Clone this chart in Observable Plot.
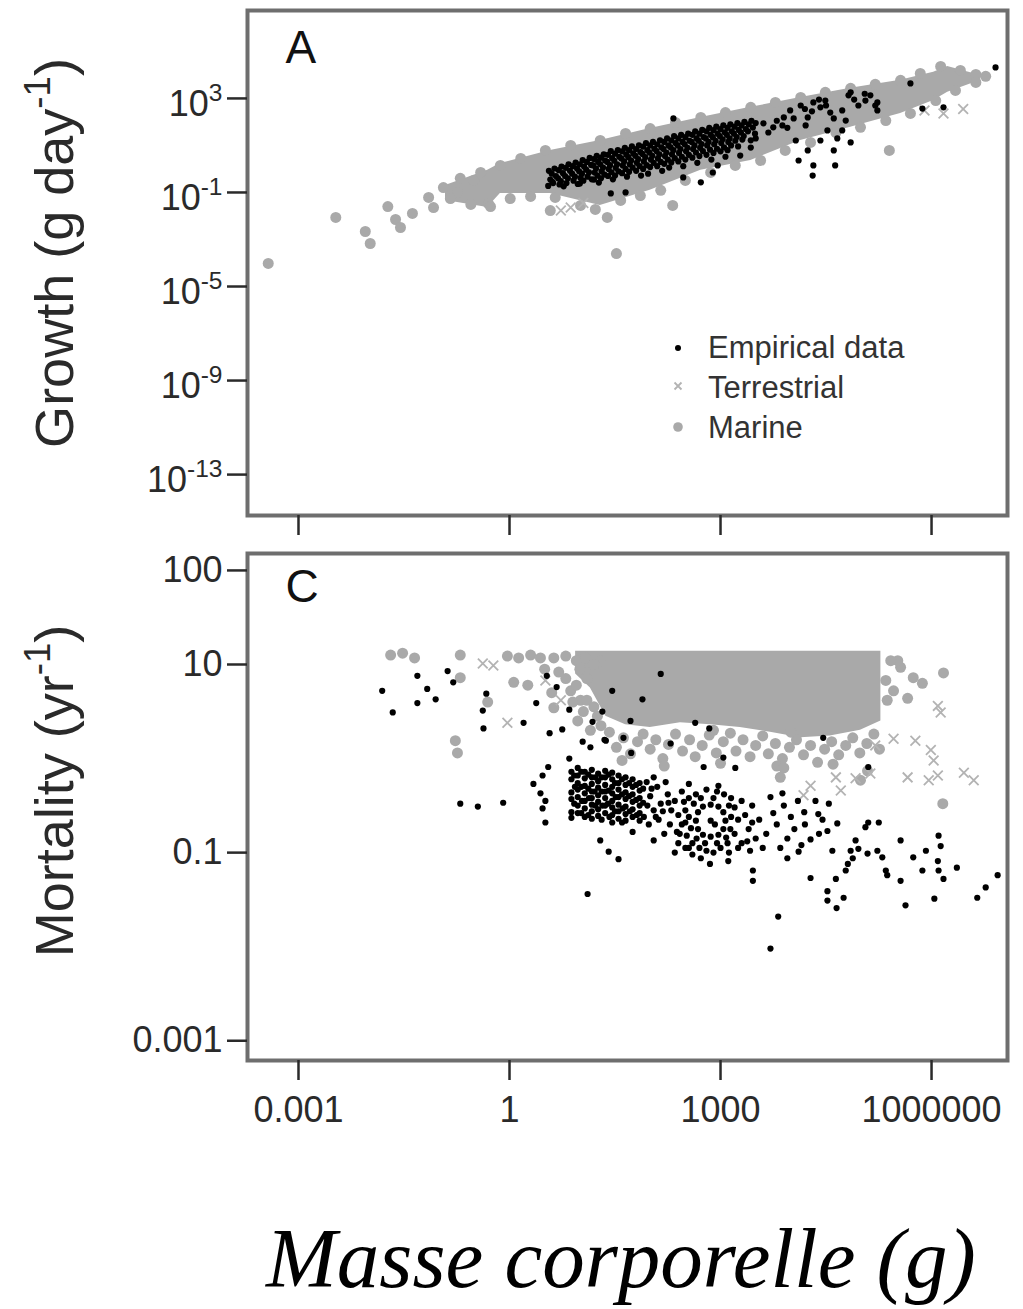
<!DOCTYPE html>
<html><head><meta charset="utf-8">
<script src="https://cdn.jsdelivr.net/npm/d3@7"></script>
<script src="https://cdn.jsdelivr.net/npm/@observablehq/plot@0.6"></script>
<style>
body{margin:0;background:#fff;}
#wrap{position:relative;width:1023px;height:1309px;overflow:hidden;font-family:"Liberation Sans",Arial,Helvetica,sans-serif;}
#legend{position:absolute;left:660px;top:328px;font-size:31px;color:#333;}
#legend .row{position:relative;height:40px;line-height:40px;white-space:nowrap;}
#legend svg{position:absolute;left:0;top:0;}
#legend span{position:absolute;left:48px;top:0;}
#xtitle{position:absolute;left:266px;top:1216px;font:italic 85px "Liberation Serif","Times New Roman",serif;line-height:1;color:#000;white-space:nowrap;}
</style></head><body>
<div id="wrap"></div>
<script>
const FONT = '"Liberation Sans", Arial, Helvetica, sans-serif';

// ---- axes ----
const massTicks = [0.001, 1, 1000, 1000000];
const massTickLabels = ["0.001", "1", "1000", "1000000"];
const growthTicks = [1e3, 1e-1, 1e-5, 1e-9, 1e-13];
const growthTickLabels = ["10^3", "10^-1", "10^-5", "10^-9", "10^-13"];
const mortalityTicks = [100, 10, 0.1, 0.001];
const mortalityTickLabels = ["100", "10", "0.1", "0.001"];
const seriesNames = ["Empirical data", "Terrestrial", "Marine"];
const panelLetters = ["A", "C"];
const yTitles = ["Growth (g day^-1|)", "Mortality (yr^-1|)"];
const xTitle = "Masse corporelle (g)";

// ---- Panel A: [log10 body mass (g), log10 growth (g/day)] ----
const growthEmpirical = [
 [0.56,-0.08],[0.58,-0.45],[0.55,-0.72],[0.64,0.02],[0.66,-0.3],[0.62,-0.6],[0.74,0.1],[0.76,-0.18],[0.73,-0.52],[0.77,-0.74],
 [0.84,0.2],[0.86,-0.08],[0.83,-0.4],[0.94,0.27],[0.96,0.02],[0.93,-0.33],[0.97,-0.64],[1.04,0.38],[1.06,0.1],[1.03,-0.2],
 [1.05,-0.5],[1.14,0.47],[1.16,0.17],[1.13,-0.14],[1.17,-0.44],[1.24,0.56],[1.26,0.3],[1.23,0.02],[1.25,-0.28],[1.27,-0.58],
 [1.34,0.62],[1.36,0.36],[1.33,0.06],[1.35,-0.24],[1.44,0.76],[1.46,0.46],[1.43,0.16],[1.45,-0.14],[1.47,-0.44],[1.54,0.8],
 [1.56,0.52],[1.53,0.2],[1.55,-0.1],[1.64,0.9],[1.66,0.62],[1.63,0.32],[1.65,0.0],[1.67,-0.33],[1.74,0.96],[1.76,0.66],
 [1.73,0.36],[1.75,0.06],[1.84,1.0],[1.86,0.72],[1.83,0.42],[1.85,0.12],[1.87,-0.28],[1.94,1.1],[1.96,0.8],[1.93,0.5],
 [1.95,0.16],[1.97,-0.2],[2.04,1.15],[2.06,0.86],[2.03,0.56],[2.05,0.26],[2.14,1.22],[2.16,0.92],[2.13,0.62],[2.15,0.3],
 [2.17,-0.08],[2.24,1.3],[2.26,1.0],[2.23,0.7],[2.25,0.4],[2.27,0.06],[2.34,1.4],[2.36,1.1],[2.33,0.8],[2.35,0.46],
 [2.44,1.45],[2.46,1.15],[2.43,0.85],[2.45,0.52],[2.47,0.12],[2.54,1.5],[2.56,1.2],[2.53,0.9],[2.55,0.6],[2.64,1.6],
 [2.66,1.3],[2.63,1.0],[2.65,0.7],[2.67,0.26],[2.74,1.66],[2.76,1.36],[2.73,1.06],[2.75,0.76],[2.84,1.75],[2.86,1.45],
 [2.83,1.15],[2.85,0.82],[2.87,0.4],[2.94,1.8],[2.96,1.5],[2.93,1.2],[2.95,0.86],[3.04,1.86],[3.06,1.56],[3.03,1.26],
 [3.05,0.92],[3.07,0.52],[3.14,1.9],[3.16,1.6],[3.13,1.3],[3.15,1.0],[3.24,1.95],[3.26,1.66],[3.23,1.36],[3.25,0.96],
 [3.34,2.0],[3.36,1.7],[3.33,1.4],[3.44,2.05],[3.46,1.76],[3.43,1.22],
 [0.6,-0.2],[0.61,-0.55],[0.7,-0.05],[0.69,-0.4],[0.71,-0.66],[0.8,0.05],[0.79,-0.3],[0.81,-0.6],[0.9,0.12],[0.89,-0.2],
 [0.91,-0.5],[1.0,0.2],[0.99,-0.1],[1.01,-0.38],[1.0,-0.62],[1.1,0.3],[1.09,-0.03],[1.11,-0.33],[1.2,0.42],[1.19,0.15],
 [1.21,-0.15],[1.2,-0.45],[1.3,0.48],[1.29,0.2],[1.31,-0.1],[1.3,-0.4],[1.4,0.6],[1.39,0.3],[1.41,0.0],[1.4,-0.3],
 [1.5,0.65],[1.49,0.35],[1.51,0.05],[1.5,-0.28],[1.6,0.75],[1.59,0.45],[1.61,0.15],[1.6,-0.18],[1.7,0.8],[1.69,0.5],
 [1.71,0.2],[1.7,-0.12],[1.8,0.85],[1.79,0.56],[1.81,0.26],[1.8,-0.08],[1.9,0.95],[1.89,0.64],[1.91,0.32],[1.9,0.0],
 [2.0,1.0],[1.99,0.7],[2.01,0.4],[2.0,0.08],[2.1,1.05],[2.09,0.76],[2.11,0.45],[2.1,0.12],[2.2,1.15],[2.19,0.85],
 [2.21,0.55],[2.2,0.22],[2.3,1.22],[2.29,0.92],[2.31,0.62],[2.3,0.28],[2.4,1.3],[2.39,1.0],[2.41,0.68],[2.4,0.32],
 [2.5,1.35],[2.49,1.05],[2.51,0.75],[2.5,0.4],[2.6,1.45],[2.59,1.15],[2.61,0.85],[2.6,0.48],[2.7,1.5],[2.69,1.2],
 [2.71,0.9],[2.7,0.55],[2.8,1.6],[2.79,1.3],[2.81,1.0],[2.8,0.6],[2.9,1.65],[2.89,1.35],[2.91,1.05],[2.9,0.68],
 [3.0,1.7],[2.99,1.4],[3.01,1.1],[3.0,0.75],[3.1,1.75],[3.09,1.45],[3.11,1.15],[3.1,0.8],[3.2,1.8],[3.19,1.5],
 [3.21,1.2],[3.3,1.85],[3.29,1.55],[3.31,1.25],[3.4,1.9],[3.39,1.6],[3.5,1.95],[3.49,1.5],
 [2.33,2.15],[6.91,4.32],[5.70,3.64],[5.87,2.57],[6.17,2.62],[4.85,3.26],[4.96,2.70],[5.23,2.83],[5.23,2.49],[4.73,2.49],
 [4.61,2.15],[4.42,2.62],[4.32,2.83],[4.24,2.19],[4.04,2.15],[3.90,2.19],[4.52,1.64],[4.73,1.64],[4.66,1.30],[4.85,1.13],
 [4.42,1.21],[4.24,0.79],[4.07,1.21],[4.61,0.79],[4.11,0.36],[4.32,0.15],[4.63,0.15],[4.31,-0.28],[3.75,1.77],[3.61,1.94],
 [3.43,0.91],[3.28,0.57],[2.96,0.15],[2.89,-0.15],[2.72,-0.57],[2.47,-0.36],[1.65,-1.0],[1.44,-1.04],
 [4.14,2.70],[3.99,2.49],[4.49,2.91],[4.56,2.40],[4.21,1.85],[4.82,3.13],[5.06,2.91],[5.13,3.13],[5.20,2.70],[3.88,1.85],
 [3.68,1.55],[3.50,1.30],[4.78,2.06],[4.3,2.45],[4.4,2.95],[4.2,2.55],[4.9,2.95],[5.05,3.2],[4.5,2.7],[3.8,2.05],[3.95,1.75]
];
const growthTerrestrial = [[0.87,-1.64],[5.90,2.49],[6.17,2.36],[6.45,2.55],[1.05,-1.45],[0.73,-1.77]];
const growthMarine = [
 [-3.43,-4.02],[-2.47,-2.06],[-2.05,-2.66],[-1.98,-3.17],[-1.73,-1.60],[-1.62,-2.15],[-1.55,-2.49],[-1.38,-1.89],[-1.15,-1.21],
 [-1.08,-1.64],[-0.94,-0.79],[-0.74,-1.00],[-0.51,-0.49],[-0.30,-1.47],[0.58,-1.77],[1.39,-2.06],[1.52,-3.60],[2.32,-1.55],[5.40,0.79],
 [-0.70,-0.40],[-0.41,-0.15],[-0.13,0.15],[0.16,0.45],[0.51,0.79],[0.87,1.00],[1.29,1.21],[1.65,1.51],[2.00,1.72],[2.36,1.98],
 [2.72,2.19],[3.07,2.40],[3.43,2.62],[3.78,2.83],[4.14,3.04],[4.49,3.26],[4.85,3.43],[5.20,3.60],[5.56,3.77],[5.84,4.06],
 [6.13,4.36],[6.41,4.19],[6.63,4.02],[6.77,3.94],
 [-0.84,-1.26],[-0.55,-1.51],[-0.27,-1.60],[0.01,-1.26],[0.30,-1.17],[0.65,-1.21],[1.01,-1.55],[1.22,-1.72],[1.58,-1.34],
 [1.86,-1.13],[2.15,-0.91],[2.50,-0.49],[2.86,-0.15],[3.21,0.15],[3.57,0.36],[3.92,0.79],[4.28,1.13],[4.64,1.55],[4.99,1.77],
 [5.35,2.06],[5.70,2.36],[6.06,2.91],[6.34,3.34],[6.63,3.68]
];
// envelope of the dense marine cloud
const growthCoreMass = [-0.91,-0.31,-0.13,0.58,1.29,2.00,2.72,3.43,4.14,4.85,5.56,6.03,6.23,6.70];
const growthCoreHigh = [-0.70,-0.06,0.23,0.79,1.21,1.72,2.19,2.62,3.04,3.43,3.77,4.11,4.36,3.98];
const growthCoreLow  = [-1.34,-1.64,-1.04,-1.04,-1.55,-0.91,-0.06,0.36,1.21,1.77,2.36,2.91,3.26,3.77];

// ---- Panel C: [log10 body mass (g), log10 mortality (1/yr)] ----
const mortalityEmpirical = [
 [-1.81,0.72],[-1.66,0.49],[-1.31,0.88],[-1.31,0.59],[-1.17,0.74],[-1.05,0.63],[-0.88,0.93],[-0.80,0.81],[-0.33,0.69],[-0.38,0.51],
 [-0.37,0.32],[0.20,0.38],[0.38,0.59],[0.53,0.88],[0.67,0.76],[0.85,0.52],[0.57,0.27],[0.75,0.31],[-0.70,-0.48],[-0.45,-0.51],
 [-0.09,-0.47],[1.11,-1.44],[2.15,0.90],[1.46,0.72],[1.89,0.63],[1.32,0.50],[1.18,0.39],[1.72,0.40],[1.04,0.18],[1.15,0.12],
 [1.35,0.20],[1.62,0.22],[1.73,0.06],[2.29,0.16],[0.85,0.0],[0.55,-0.09],[0.47,-0.18],[0.34,-0.27],[0.44,-0.37],[0.51,-0.45],
 [0.47,-0.53],[0.51,-0.68],[1.29,-0.87],[1.41,-0.99],[1.55,-1.07],[1.75,-0.78],[2.05,-0.87],[2.50,-0.95],[2.64,0.38],[2.84,0.32],
 [4.46,0.22],[5.10,-0.09],[3.04,0.01],[2.76,-0.09],[3.21,-0.10],[2.55,-0.27],[2.97,-0.29],[3.88,-0.37],[3.71,-0.41],[4.54,-0.48],
 [4.19,-0.57],[4.39,-0.59],[4.66,-0.69],[5.10,-0.68],[5.25,-0.68],[4.52,-0.77],[4.28,-0.86],[4.11,-0.99],[3.95,-1.06],[3.46,-1.30],
 [4.28,-1.27],[4.64,-1.28],[4.52,-1.41],[4.52,-1.51],[4.75,-1.48],[4.65,-1.59],[4.78,-1.19],[4.88,-1.06],[4.96,-0.96],[5.09,-1.01],
 [5.23,-0.98],[5.30,-1.05],[5.35,-1.19],[5.37,-1.24],[5.56,-0.87],[5.56,-1.30],[5.74,-1.05],[5.87,-1.19],[5.92,-0.98],[6.10,-0.82],
 [6.13,-0.93],[6.09,-1.09],[6.10,-1.19],[6.17,-1.28],[6.36,-1.16],[5.63,-1.56],[6.04,-1.49],[6.65,-1.48],[6.77,-1.37],[6.94,-1.24],
 [3.82,-1.68],[3.71,-2.02],[4.85,-0.98],[4.92,-0.87],[5.06,-0.73],[4.81,-1.12],[4.59,-0.98],[2.72,-1.06],[2.55,-0.95],[3.11,-1.09],
 [3.46,-1.19],[1.37,0.19],
 [3.9,-0.5],[4.0,-0.62],[4.1,-0.45],[4.05,-0.75],[4.2,-0.7],[4.35,-0.45],[4.45,-0.65],[3.95,-0.85],[4.15,-0.92],[4.4,-0.8],
 [3.8,-0.7],[3.75,-0.58],[3.65,-0.8],[3.6,-0.95],[3.55,-0.65],[3.85,-0.95],
 [3.07,-0.66],[3.04,-0.57],[2.97,-0.51],[2.86,-0.49],[2.75,-0.51],[2.68,-0.57],[2.65,-0.66],[2.68,-0.75],[2.75,-0.81],[2.86,-0.83],
 [2.97,-0.81],[3.04,-0.75],[2.86,-0.66],[2.92,-0.7],
 [2.45,-0.35],[2.55,-0.42],[2.5,-0.55],[2.45,-0.7],[2.52,-0.82],[2.6,-0.9],[2.7,-0.95],[2.8,-0.98],[2.9,-1.0],[3.0,-0.95],
 [3.1,-0.9],[3.2,-0.8],[3.25,-0.65],[3.2,-0.52],[3.15,-0.42],[3.05,-0.38],[2.95,-0.35],[2.8,-0.33],[2.65,-0.38],[3.3,-0.45],
 [3.35,-0.6],[3.4,-0.75],[3.3,-0.9],[3.42,-0.98],[2.6,-1.02],[2.85,-1.12],[3.12,-1.0],[3.45,-0.5],[3.5,-0.85],[2.4,-0.9],[2.35,-1.0],
 [2.55,-0.62],[2.58,-0.74],[2.62,-0.48],[2.72,-0.42],[2.9,-0.42],[3.12,-0.5],[3.15,-0.62],[3.14,-0.75],[3.08,-0.84],[2.95,-0.9],
 [2.78,-0.9],[2.66,-0.85],[2.5,-0.68],[2.42,-0.8],[3.25,-0.95],[3.38,-0.88],[3.45,-0.68],[2.48,-0.46],
 [1.95,-0.25],[2.0,-0.4],[2.05,-0.55],[1.98,-0.7],[2.1,-0.3],[2.15,-0.48],[2.12,-0.65],[2.2,-0.8],[2.25,-0.38],[2.3,-0.55],
 [2.28,-0.7],[2.35,-0.45],[2.4,-0.6],[2.38,-0.78],[2.05,-0.2],[2.22,-0.25],[2.02,-0.32],[2.08,-0.62],[2.18,-0.56],[2.26,-0.47],[1.96,-0.5],
 [0.88,-0.14],[0.88,-0.22],[0.88,-0.36],[0.88,-0.43],[0.88,-0.57],[0.88,-0.63],
 [0.97,-0.1],[0.97,-0.18],[0.97,-0.26],[0.97,-0.33],[0.97,-0.41],[0.97,-0.5],[0.97,-0.58],
 [1.07,-0.14],[1.07,-0.21],[1.07,-0.29],[1.07,-0.37],[1.07,-0.45],[1.07,-0.53],[1.07,-0.62],
 [1.17,-0.12],[1.17,-0.2],[1.17,-0.27],[1.17,-0.35],[1.17,-0.49],[1.17,-0.56],[1.17,-0.64],
 [1.26,-0.16],[1.26,-0.24],[1.26,-0.31],[1.26,-0.39],[1.26,-0.46],[1.26,-0.54],[1.26,-0.61],
 [1.36,-0.13],[1.36,-0.2],[1.36,-0.28],[1.36,-0.42],[1.36,-0.5],[1.36,-0.58],
 [1.46,-0.15],[1.46,-0.22],[1.46,-0.3],[1.46,-0.37],[1.46,-0.45],[1.46,-0.52],[1.46,-0.6],[1.46,-0.68],
 [1.55,-0.18],[1.55,-0.26],[1.55,-0.33],[1.55,-0.41],[1.55,-0.49],[1.55,-0.56],[1.55,-0.64],
 [1.65,-0.2],[1.65,-0.28],[1.65,-0.36],[1.65,-0.43],[1.65,-0.51],[1.65,-0.59],[1.65,-0.66],
 [1.75,-0.22],[1.75,-0.3],[1.75,-0.38],[1.75,-0.46],[1.75,-0.54],[1.75,-0.62],
 [1.85,-0.26],[1.85,-0.34],[1.85,-0.42],[1.85,-0.5],[1.85,-0.58],[1.85,-0.66],
 [0.92,-0.18],[0.93,-0.3],[0.92,-0.48],[1.02,-0.14],[1.02,-0.3],[1.03,-0.45],[1.02,-0.58],[1.12,-0.17],[1.12,-0.32],[1.13,-0.42],
 [1.12,-0.6],[1.22,-0.2],[1.21,-0.35],[1.22,-0.5],[1.31,-0.2],[1.31,-0.35],[1.32,-0.5],[1.31,-0.65],[1.41,-0.17],[1.41,-0.34],
 [1.4,-0.48],[1.42,-0.62],[1.5,-0.26],[1.51,-0.41],[1.5,-0.56],[1.6,-0.22],[1.6,-0.38],[1.61,-0.53],[1.6,-0.68],[1.7,-0.26],
 [1.7,-0.4],[1.71,-0.56],[1.8,-0.28],[1.8,-0.44],[1.81,-0.6],[1.9,-0.32],[1.9,-0.47],[1.91,-0.62],[1.36,-0.35],[1.17,-0.42]
];
const mortalityTerrestrial = [
 [-0.23,0.99],[-0.03,0.38],[-0.38,1.01],[0.51,0.83],[0.73,0.62],
 [6.09,0.56],[5.46,0.21],[5.99,0.09],[6.03,-0.02],[4.64,-0.20],[4.92,-0.21],[5.13,-0.16],[5.66,-0.20],[5.96,-0.23],[6.09,-0.18],
 [6.46,-0.15],[6.60,-0.23],[4.18,-0.39],[4.71,-0.34],[5.20,0.14],[5.77,0.19],[6.13,0.49],[4.28,-0.29]
];
const mortalityMarine = [
 [-1.69,1.10],[-1.52,1.12],[-1.35,1.07],[-0.70,1.10],[-0.70,0.86],[-0.77,0.19],[-0.74,0.06],[-0.31,0.60],[-0.03,1.09],[0.13,1.07],
 [0.30,1.10],[0.44,1.07],[0.06,0.81],[0.26,0.78],[0.63,1.07],[0.80,1.09],[0.63,0.54],[0.95,1.04],[1.08,1.07],[1.29,1.04],
 [1.01,0.62],[0.97,0.40],[1.15,0.30],[0.87,0.72],[1.0,0.95],[1.1,0.85],[0.95,0.78],[0.7,0.92],[1.2,1.0],
 [0.5,0.95],[0.6,0.7],[0.8,0.85],[0.9,0.6],[1.05,0.5],[1.1,0.62],[1.25,0.45],[1.3,0.35],[1.2,0.55],
 [1.42,0.28],[1.52,0.12],[1.62,0.22],[1.72,0.05],[1.82,0.18],[1.9,0.26],[2.0,0.1],[2.08,0.2],[2.18,0.0],[2.26,0.15],
 [2.36,0.26],[2.46,0.08],[2.56,0.2],[2.64,0.02],[2.74,0.14],[2.84,0.25],[2.94,0.06],[3.04,0.18],[3.14,0.27],[3.22,0.08],
 [3.32,0.2],[3.42,0.02],[3.5,0.14],[3.6,0.24],[3.68,0.05],[3.78,0.16],[3.88,0.0],[3.98,0.12],[4.08,0.2],[4.18,0.04],
 [4.28,0.14],[4.38,-0.04],[4.48,0.1],[4.58,0.18],[4.68,0.04],[4.78,0.14],[4.88,0.22],[4.98,0.06],[5.08,0.16],[5.18,0.26],
 [5.26,0.1],[2.2,-0.08],[3.0,-0.05],[3.8,-0.08],[4.6,-0.06],[1.6,-0.02],[2.9,0.3],[4.0,0.28],
 [6.17,0.91],[5.56,0.97],[5.74,0.86],[5.52,1.04],[5.87,0.80],[5.66,0.64],[5.37,0.62],[6.16,-0.48],[5.09,-0.13],[4.99,-0.23],
 [3.90,-0.10],[3.85,-0.20],[5.42,1.04],[5.35,0.83],[5.46,0.72]
];
// envelope of the dense marine block
const mortalityCoreMass = [0.94,1.15,1.37,1.65,2.0,2.43,2.86,3.28,3.71,4.14,4.56,4.99,5.28];
const mortalityCoreLow  = [0.9,0.75,0.45,0.36,0.33,0.38,0.36,0.33,0.28,0.22,0.24,0.3,0.4];
const mortalityCoreHigh = [1.14,1.14,1.14,1.14,1.14,1.14,1.14,1.14,1.14,1.14,1.14,1.14,1.14];

// ---- helpers ----
const pts = arr => arr.map(([m, v]) => ({mass: 10 ** m, value: 10 ** v}));
const band = (m, lo, hi) => m.map((d, i) => ({mass: 10 ** d, low: 10 ** lo[i], high: 10 ** hi[i]}));
const labelFor = (ticks, labels) => d => labels[ticks.indexOf(d)];

const X_DOMAIN = [10 ** -3.725, 10 ** 7.08];
const GRAY = "#a9a9a9";
const TERR = "#b3b3b3";
const FRAME = "#6e6e6e";
const INK = "#2a2a2a";

function panelMarks(core, marine, terr, emp) {
  return [
    Plot.areaY(core, {x: "mass", y1: "low", y2: "high", fill: GRAY}),
    Plot.dot(marine, {x: "mass", y: "value", r: 5.5, fill: GRAY}),
    Plot.dot(terr, {x: "mass", y: "value", symbol: "times", r: 4.5, stroke: TERR, strokeWidth: 1.8}),
    Plot.dot(emp, {x: "mass", y: "value", r: 3.1, fill: "#000"}),
    Plot.frame({stroke: FRAME, strokeWidth: 4})
  ];
}

const plotA = Plot.plot({
  width: 1023, height: 540,
  marginLeft: 247, marginRight: 16, marginTop: 10, marginBottom: 25,
  style: {fontFamily: FONT, background: "transparent", overflow: "visible"},
  x: {type: "log", domain: X_DOMAIN},
  y: {type: "log", domain: [10 ** -14.74, 10 ** 6.74]},
  marks: [
    ...panelMarks(band(growthCoreMass, growthCoreLow, growthCoreHigh), pts(growthMarine), pts(growthTerrestrial), pts(growthEmpirical)),
    Plot.axisY({ticks: growthTicks, tickFormat: labelFor(growthTicks, growthTickLabels), tickSize: 20, tickPadding: 5,
      fontSize: 36, color: INK, strokeWidth: 2.5, label: null}),
    Plot.axisX({ticks: massTicks, tickFormat: () => "", tickSize: 20, color: INK, strokeWidth: 2.5, label: null}),
    Plot.text([panelLetters[0]], {text: d => d, frameAnchor: "top-left", dx: 38, dy: 20, fontSize: 46, textAnchor: "start", lineAnchor: "top", fill: "#111"}),
    Plot.text([yTitles[0]], {text: d => d, frameAnchor: "left", dx: -192, dy: -10, rotate: -90, fontSize: 54, textAnchor: "middle", fill: INK})
  ]
});

const plotC = Plot.plot({
  width: 1023, height: 600,
  marginLeft: 247, marginRight: 16, marginTop: 13, marginBottom: 80,
  style: {fontFamily: FONT, background: "transparent", overflow: "visible"},
  x: {type: "log", domain: X_DOMAIN},
  y: {type: "log", domain: [10 ** -3.21, 10 ** 2.18]},
  marks: [
    ...panelMarks(band(mortalityCoreMass, mortalityCoreLow, mortalityCoreHigh), pts(mortalityMarine), pts(mortalityTerrestrial), pts(mortalityEmpirical)),
    Plot.axisY({ticks: mortalityTicks, tickFormat: labelFor(mortalityTicks, mortalityTickLabels), tickSize: 20, tickPadding: 5,
      fontSize: 36, color: INK, strokeWidth: 2.5, label: null}),
    Plot.axisX({ticks: massTicks, tickFormat: labelFor(massTicks, massTickLabels), tickSize: 20, tickPadding: 16,
      fontSize: 36, color: INK, strokeWidth: 2.5, label: null}),
    Plot.text([panelLetters[1]], {text: d => d, frameAnchor: "top-left", dx: 38, dy: 16, fontSize: 46, textAnchor: "start", lineAnchor: "top", fill: "#111"}),
    Plot.text([yTitles[1]], {text: d => d, frameAnchor: "left", dx: -192, dy: -16, rotate: -90, fontSize: 54, textAnchor: "middle", fill: INK})
  ]
});

// superscripts: "base^sup|tail"
function supify(svg) {
  const NS = "http://www.w3.org/2000/svg";
  svg.querySelectorAll("text").forEach(t => {
    const s = t.textContent;
    const i = s.indexOf("^");
    if (i < 0) return;
    const holder = t.closest("[font-size]");
    const fs = parseFloat(t.getAttribute("font-size") || (holder && holder.getAttribute("font-size")) || 36);
    const isTick = !!t.closest('[aria-label="y-axis tick label"]');
    let sup = s.slice(i + 1), tail = "";
    const j = sup.indexOf("|");
    if (j >= 0) { tail = sup.slice(j + 1); sup = sup.slice(0, j); }
    while (t.firstChild) t.removeChild(t.firstChild);
    const a = document.createElementNS(NS, "tspan");
    a.textContent = s.slice(0, i);
    if (isTick) a.setAttribute("dy", (0.16 * fs).toFixed(1));
    t.appendChild(a);
    const b = document.createElementNS(NS, "tspan");
    b.textContent = sup;
    b.setAttribute("dy", (-0.42 * fs).toFixed(1));
    b.setAttribute("font-size", (0.68 * fs).toFixed(1));
    t.appendChild(b);
    if (tail) {
      const c = document.createElementNS(NS, "tspan");
      c.textContent = tail;
      c.setAttribute("dy", (0.42 * fs).toFixed(1));
      t.appendChild(c);
    }
  });
}

const wrap = document.getElementById("wrap");
plotA.style.position = "absolute"; plotA.style.left = "0px"; plotA.style.top = "0px";
plotC.style.position = "absolute"; plotC.style.left = "0px"; plotC.style.top = "540px";
wrap.appendChild(plotA);
wrap.appendChild(plotC);
supify(plotA);
supify(plotC);

// legend (panel A)
const legend = document.createElement("div");
legend.id = "legend";
const symbols = [
  '<circle cx="18" cy="20" r="3" fill="#000"/>',
  '<path d="M14.5 14.5 L21.5 21.5 M21.5 14.5 L14.5 21.5" stroke="' + TERR + '" stroke-width="1.8"/>',
  '<circle cx="18" cy="19" r="4.8" fill="' + GRAY + '"/>'
];
legend.innerHTML = seriesNames.map((name, i) =>
  '<div class="row"><svg width="36" height="40">' + symbols[i] + '</svg><span>' + name + '</span></div>').join("");
wrap.appendChild(legend);

// x title
const xt = document.createElement("div");
xt.id = "xtitle";
xt.textContent = xTitle;
wrap.appendChild(xt);
</script>
</body></html>
